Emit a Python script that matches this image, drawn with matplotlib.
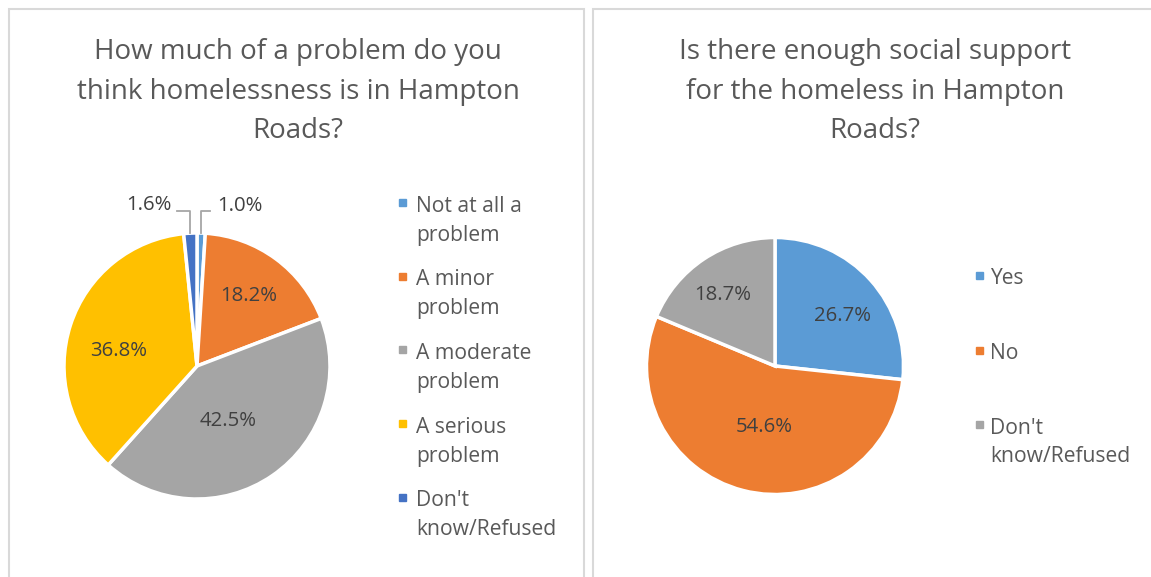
import matplotlib.pyplot as plt
from matplotlib.patches import Rectangle

plt.rcParams['font.family'] = ['Open Sans', 'DejaVu Sans']

# left chart data
left_title = ["How much of a problem do you", "think homelessness is in Hampton", "Roads?"]
left_labels = [["Not at all a", "problem"], ["A minor", "problem"], ["A moderate", "problem"],
               ["A serious", "problem"], ["Don't", "know/Refused"]]
left_values = [1.0, 18.2, 42.5, 36.8, 1.6]
left_colors = ["#5B9BD5", "#ED7D31", "#A5A5A5", "#FFC000", "#4472C4"]

# right chart data
right_title = ["Is there enough social support", "for the homeless in Hampton", "Roads?"]
right_labels = [["Yes"], ["No"], ["Don't", "know/Refused"]]
right_values = [26.7, 54.6, 18.7]
right_colors = ["#5B9BD5", "#ED7D31", "#A5A5A5"]

W, H = 1151, 577
fig = plt.figure(figsize=(W / 100, H / 100), dpi=100)
ax = fig.add_axes([0, 0, 1, 1])


def iy(y):
    # image y (top-down) -> axes y
    return H - y


wedge_kw = dict(edgecolor='white', linewidth=2.5)
ax.pie(left_values, colors=left_colors, startangle=90, counterclock=False,
       center=(197, iy(366)), radius=133, wedgeprops=wedge_kw, frame=True)
ax.pie(right_values, colors=right_colors, startangle=90, counterclock=False,
       center=(775, iy(366)), radius=128.5, wedgeprops=wedge_kw, frame=True)
ax.set_xlim(0, W)
ax.set_ylim(0, H)
ax.set_aspect('equal')
ax.axis('off')

# panel borders
for x0, x1 in [(9, 584), (593, W + 10)]:
    ax.add_patch(Rectangle((x0, -10), x1 - x0, iy(9) + 10, fill=False,
                           edgecolor="#D9D9D9", linewidth=1.5))

title_kw = dict(ha='center', va='baseline', fontsize=20, color="#595959")
for i, line in enumerate(left_title):
    ax.text(298, iy(59 + 39.5 * i), line, **title_kw)
for i, line in enumerate(right_title):
    ax.text(875, iy(59 + 39.5 * i), line, **title_kw)

lab_kw = dict(ha='center', va='center', fontsize=14.7, color="#404040")
# inside labels (left): minor, moderate, serious
left_pos = [None, (249, 296), (228, 421), (119, 351), None]
for v, p in zip(left_values, left_pos):
    if p is not None:
        ax.text(p[0], iy(p[1]), f"{v:.1f}%", **lab_kw)

# outside labels with leader lines
ax.plot([201.5, 201.5, 210], [iy(233), iy(211), iy(211)], color="#A6A6A6", lw=1.3)
ax.text(217, iy(206), f"{left_values[0]:.1f}%", ha='left', va='center', fontsize=14.7, color="#404040")
ax.plot([190, 190, 177], [iy(233), iy(211), iy(211)], color="#A6A6A6", lw=1.3)
ax.text(172, iy(205), f"{left_values[4]:.1f}%", ha='right', va='center', fontsize=14.7, color="#404040")

right_pos = [(843, 316), (764, 427), (723, 295)]
for v, p in zip(right_values, right_pos):
    ax.text(p[0], iy(p[1]), f"{v:.1f}%", **lab_kw)

leg_kw = dict(ha='left', va='baseline', fontsize=15.2, color="#595959")
for i, (lab, col) in enumerate(zip(left_labels, left_colors)):
    y = 211.5 + 73.7 * i
    ax.add_patch(Rectangle((399, iy(y - 5.5)), 7, 7, color=col))
    for j, line in enumerate(lab):
        ax.text(416, iy(y + 29 * j), line, **leg_kw)

for i, (lab, col) in enumerate(zip(right_labels, right_colors)):
    y = 284.5 + 74.5 * i
    ax.add_patch(Rectangle((976, iy(y - 5.5)), 7, 7, color=col))
    for j, line in enumerate(lab):
        ax.text(990, iy(y + 29 * j), line, **leg_kw)

fig.savefig("out.png", dpi=100)
